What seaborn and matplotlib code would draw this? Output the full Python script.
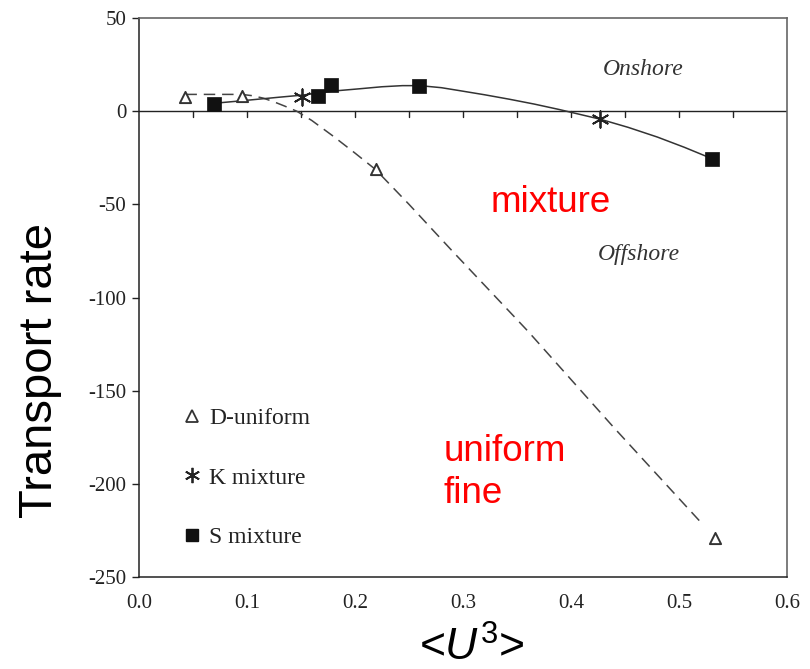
import matplotlib
matplotlib.use("Agg")
import matplotlib.pyplot as plt
from matplotlib.lines import Line2D
import numpy as np
import pandas as pd
import seaborn as sns

# Measured transport rates
d_uniform_x = [0.043, 0.095, 0.219, 0.533]
d_uniform_y = [7.5, 8.4, -31.3, -229.0]

k_mixture_x = [0.151, 0.427]
k_mixture_y = [7.5, -4.1]

s_mixture_x = [0.069, 0.166, 0.1775, 0.259, 0.531]
s_mixture_y = [3.6, 8.4, 13.8, 13.4, -25.6]

# Trend curves (vertices of the drawn lines)
uniform_curve_x = [0.043, 0.095, 0.105, 0.115, 0.125, 0.135, 0.146, 0.160, 0.180,
                   0.200, 0.219, 0.250, 0.290, 0.360, 0.440, 0.523]
uniform_curve_y = [9.0, 9.0, 8.3, 7.0, 5.0, 2.7, 0.0, -5.0, -13.5,
                   -22.5, -31.3, -50.0, -75.0, -118.0, -170.0, -222.4]

mixture_curve_x = [0.069, 0.090, 0.110, 0.130, 0.151, 0.166, 0.180, 0.204, 0.225,
                   0.244, 0.260, 0.280, 0.297, 0.320, 0.343, 0.366, 0.389, 0.408,
                   0.427, 0.453, 0.480, 0.505, 0.531]
mixture_curve_y = [4.2, 5.3, 6.4, 7.5, 8.6, 9.7, 10.8, 12.0, 13.1,
                   13.7, 13.7, 12.6, 11.0, 8.8, 6.4, 3.8, 0.9, -1.7,
                   -4.3, -8.7, -13.9, -19.4, -25.6]

x_ticks = [0.0, 0.1, 0.2, 0.3, 0.4, 0.5, 0.6]
y_ticks = [-250, -200, -150, -100, -50, 0, 50]
zero_ticks = [0.05, 0.10, 0.15, 0.20, 0.25, 0.30, 0.35, 0.40, 0.45, 0.50, 0.55]

sns.set_theme(style="white")
plt.rcParams["font.family"] = ["Liberation Serif", "DejaVu Serif"]
plt.rcParams["axes.unicode_minus"] = False
plt.rcParams["mathtext.fontset"] = "custom"
plt.rcParams["mathtext.rm"] = "Liberation Sans"
plt.rcParams["mathtext.it"] = "Liberation Sans:italic"

fig = plt.figure(figsize=(8.1, 6.69), dpi=100)
ax = fig.add_axes([0.1716, 0.1375, 0.8, 0.8356])

uni_df = pd.DataFrame({"x": uniform_curve_x, "y": uniform_curve_y})
mix_df = pd.DataFrame({"x": mixture_curve_x, "y": mixture_curve_y})
sns.lineplot(data=uni_df, x="x", y="y", ax=ax, sort=False, color="#444444",
             linewidth=1.1, linestyle=(0, (7.5, 4.5)), estimator=None)
sns.lineplot(data=mix_df, x="x", y="y", ax=ax, sort=False, color="#333333",
             linewidth=1.1, estimator=None)

# Zero line with its own small ticks
ax.axhline(0, color="#222222", linewidth=1.0, zorder=1)
for xt in zero_ticks:
    ax.plot([xt, xt], [0, -3.3], color="#222222", linewidth=1.0, zorder=1)

du = pd.DataFrame({"x": d_uniform_x, "y": d_uniform_y})
km = pd.DataFrame({"x": k_mixture_x, "y": k_mixture_y})
sm = pd.DataFrame({"x": s_mixture_x, "y": s_mixture_y})
sns.scatterplot(data=du, x="x", y="y", ax=ax, marker="^", s=65,
                facecolors="white", edgecolor="#333333", linewidth=1.4, zorder=4)
sns.scatterplot(data=km, x="x", y="y", ax=ax, marker=(6, 2, 0), s=140,
                color="#222222", edgecolor="#222222", linewidth=1.3, zorder=4)
sns.scatterplot(data=sm, x="x", y="y", ax=ax, marker="s", s=95,
                color="#111111", edgecolor="#111111", linewidth=0.5, zorder=4)

ax.set_xlim(0.0, 0.6)
ax.set_ylim(-250, 50)
ax.set_xticks(x_ticks)
ax.set_xticklabels([f"{v:.1f}" for v in x_ticks])
ax.set_yticks(y_ticks)
ax.set_yticklabels([str(v) for v in y_ticks])
ax.tick_params(axis="x", length=0, pad=12, labelsize=15, colors="#222222")
ax.tick_params(axis="y", length=5, width=1.0, direction="out", pad=4,
               labelsize=15, colors="#222222", left=True)
ax.set_xlabel("")
ax.set_ylabel("")

for side in ["left", "bottom"]:
    ax.spines[side].set_color("#222222")
    ax.spines[side].set_linewidth(1.1)
for side in ["top", "right"]:
    ax.spines[side].set_color("#666666")
    ax.spines[side].set_linewidth(1.2)

# Region labels
ax.text(0.4665, 22.5, "Onshore", style="italic", fontsize=17, color="#333333",
        ha="center", va="center")
ax.text(0.4625, -77, "Offshore", style="italic", fontsize=17, color="#333333",
        ha="center", va="center")
ax.text(0.326, -49, "mixture", fontsize=26.5, color="red", family="Liberation Sans",
        ha="left", va="center")
ax.text(0.282, -194, "uniform\nfine", fontsize=26.5, color="red",
        family="Liberation Sans", ha="left", va="center", linespacing=1.25)

handles = [
    Line2D([], [], linestyle="none", marker="^", markersize=8,
           markerfacecolor="white", markeredgecolor="#333333", markeredgewidth=1.3),
    Line2D([], [], linestyle="none", marker=(6, 2, 0), markersize=11,
           color="#222222", markeredgewidth=1.3),
    Line2D([], [], linestyle="none", marker="s", markersize=8.5,
           color="#111111"),
]
ax.legend(handles, ["D-uniform", "K mixture", "S mixture"], loc="lower left",
          bbox_to_anchor=(0.037, 0.014), frameon=False, fontsize=17,
          handlelength=0.7, handletextpad=0.35, labelspacing=1.6,
          labelcolor="#222222")

fig.text(40 / 810, 1 - 370 / 669, "Transport rate", rotation=90, fontsize=34,
         family="Liberation Sans", color="black", ha="center", va="center")
fig.text(472 / 810, 1 - 648 / 669, r"<$\mathit{U}^{\mathrm{3}}$>", fontsize=32,
         family="Liberation Sans", color="black", ha="center", va="center")

fig.savefig("out.png", dpi=100, facecolor="white")
